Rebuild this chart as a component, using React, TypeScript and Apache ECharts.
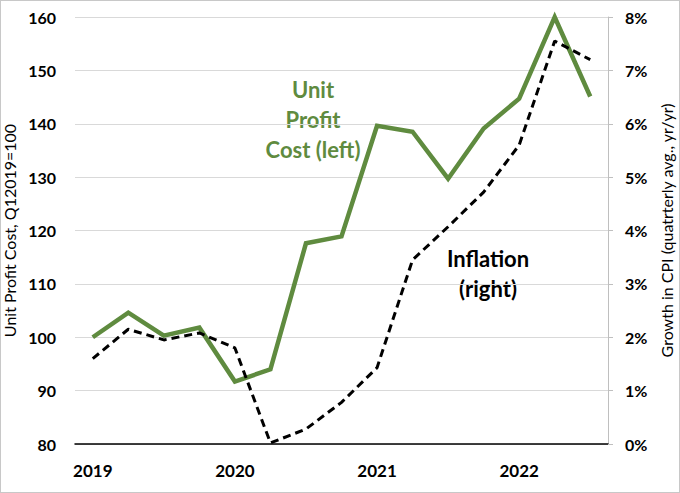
import { useEffect, useRef } from 'react'
import * as echarts from 'echarts'

const quarters = [
  '2019Q1', '2019Q2', '2019Q3', '2019Q4',
  '2020Q1', '2020Q2', '2020Q3', '2020Q4',
  '2021Q1', '2021Q2', '2021Q3', '2021Q4',
  '2022Q1', '2022Q2', '2022Q3',
]

// Unit profit cost index, Q1 2019 = 100 (left axis)
const unitProfitCost = [100, 104.6, 100.3, 101.8, 91.7, 94.0, 117.6, 118.9, 139.6, 138.5, 129.7, 139.1, 144.7, 160, 145.1]
// CPI growth, % yr/yr (right axis)
const inflation = [1.6, 2.15, 1.95, 2.08, 1.8, 0.02, 0.28, 0.78, 1.43, 3.45, 4.07, 4.72, 5.6, 7.55, 7.2]

const leftTicks = { min: 80, max: 160, interval: 10 }
const rightTicks = { min: 0, max: 8, interval: 1 }

const GREEN = '#5F8B3F'
const FONT = 'Lato, "Open Sans", sans-serif'

function App() {
  const chartRef = useRef<HTMLDivElement>(null)

  useEffect(() => {
    document.body.style.margin = '0'
    if (!chartRef.current) return
    const chart = echarts.init(chartRef.current, undefined, { renderer: 'svg' })

    chart.setOption({
      animation: false,
      textStyle: { fontFamily: FONT },
      grid: { left: 74, right: 71, top: 16, bottom: 48, containLabel: false, outerBoundsMode: 'none' },
      xAxis: {
        type: 'category',
        data: quarters,
        boundaryGap: true,
        axisLine: { lineStyle: { color: '#000', width: 1.5 } },
        axisTick: { show: false },
        axisLabel: {
          interval: 3,
          margin: 18,
          color: '#000',
          fontSize: 17,
          fontWeight: 'bold',
          fontFamily: FONT,
          formatter: (v: string) => v.slice(0, 4),
        },
      },
      yAxis: [
        {
          type: 'value',
          ...leftTicks,
          name: 'Unit Profit Cost, Q12019=100',
          nameLocation: 'middle',
          nameRotate: 90,
          nameGap: 53,
          nameTextStyle: { color: '#000', fontSize: 16, fontFamily: FONT },
          axisLine: { show: false },
          axisTick: { show: false },
          splitLine: { lineStyle: { color: '#D9D9D9', width: 1 } },
          axisLabel: { color: '#000', fontSize: 16, fontWeight: 'bold', margin: 19, fontFamily: FONT },
        },
        {
          type: 'value',
          ...rightTicks,
          position: 'right',
          name: 'Growth in CPI (quatrterly avg., yr/yr)',
          nameLocation: 'middle',
          nameRotate: 90,
          nameGap: 47,
          nameTextStyle: { color: '#000', fontSize: 16, fontFamily: FONT },
          axisLine: { show: true, lineStyle: { color: '#BFBFBF', width: 1 } },
          axisTick: { show: true, length: 5, lineStyle: { color: '#BFBFBF' } },
          splitLine: { show: false },
          axisLabel: {
            color: '#000',
            fontSize: 16,
            fontWeight: 'bold',
            margin: 17,
            fontFamily: FONT,
            formatter: '{value}%',
          },
        },
      ],
      series: [
        {
          name: 'Unit Profit Cost (left)',
          type: 'line',
          yAxisIndex: 0,
          data: unitProfitCost,
          symbol: 'none',
          clip: false,
          lineStyle: { color: GREEN, width: 4.5, join: 'miter' },
        },
        {
          name: 'Inflation (right)',
          type: 'line',
          yAxisIndex: 1,
          data: inflation,
          symbol: 'none',
          clip: false,
          lineStyle: { color: '#000', width: 3, type: [8, 5] },
          z: 3,
        },
      ],
      graphic: [
        {
          type: 'text',
          x: 312,
          y: 73,
          style: {
            text: 'Unit\nProfit\nCost (left)',
            fill: GREEN,
            font: `bold 22px ${FONT}`,
            lineHeight: 30,
            align: 'center',
            verticalAlign: 'top',
          },
        },
        {
          type: 'text',
          x: 487,
          y: 242,
          style: {
            text: 'Inflation\n(right)',
            fill: '#000',
            font: `bold 22px ${FONT}`,
            lineHeight: 30,
            align: 'center',
            verticalAlign: 'top',
          },
        },
      ],
    })

    return () => chart.dispose()
  }, [])

  return (
    <div
      ref={chartRef}
      style={{ width: 678, height: 491, border: '1px solid #C8C8C8', background: '#fff' }}
    />
  )
}

export default App
